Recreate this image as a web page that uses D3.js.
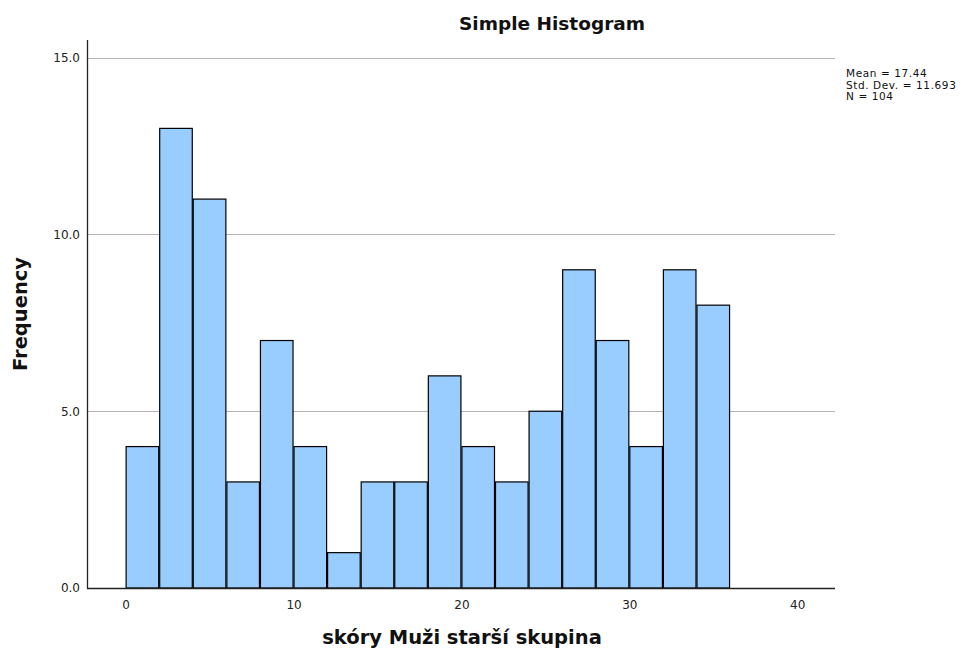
<!DOCTYPE html>
<html>
<head>
<meta charset="utf-8">
<script src="https://cdn.jsdelivr.net/npm/d3@7"></script>
<style>
body{margin:0;background:#fff;}
svg{display:block;}
text{font-family:"DejaVu Sans",sans-serif;}
</style>
</head>
<body>
<svg id="c" width="978" height="651"></svg>
<script>
const binStarts = [0,2,4,6,8,10,12,14,16,18,20,22,24,26,28,30,32,34];
const binWidth = 2;
const frequencies = [4,13,11,3,7,4,1,3,3,6,4,3,5,9,7,4,9,8];
const xTicks = [0,10,20,30,40];
const yTicks = [0,5,10,15];
const statsLines = ["Mean = 17.44","Std. Dev. = 11.693","N = 104"];

(function(){
const svg = d3.select("#c");
const mLeft = 87, mRight = 835, mTop = 40, mBottom = 588;
const x = d3.scaleLinear().domain([-2.3, 42.25]).range([mLeft, mRight]);
const y = d3.scaleLinear().domain([0, 15.5]).range([mBottom, mTop]);

// gridlines
svg.append("g").selectAll("line").data(yTicks.filter(d=>d>0)).join("line")
  .attr("x1", mLeft).attr("x2", mRight)
  .attr("y1", d=>Math.round(y(d))+0.5).attr("y2", d=>Math.round(y(d))+0.5)
  .attr("stroke", "#b4b4b4").attr("stroke-width", 1);

// bars
const data = binStarts.map((s,i)=>({x0:s, x1:s+binWidth, v:frequencies[i]}));
svg.append("g").selectAll("rect").data(data).join("rect")
  .attr("x", d=>x(d.x0)+0.5)
  .attr("width", d=>x(d.x1)-x(d.x0)-1)
  .attr("y", d=>y(d.v))
  .attr("height", d=>y(0)-y(d.v))
  .attr("fill", "#99ccff")
  .attr("stroke", "#000")
  .attr("stroke-width", 1.2);

// axes
const yAxis = d3.axisLeft(y).tickValues(yTicks).tickFormat(d3.format(".1f")).tickSize(0).tickPadding(7);
const gy = svg.append("g").attr("transform", `translate(${mLeft},0)`).call(yAxis);
gy.select(".domain").remove();
gy.selectAll("text").attr("font-size", 12).attr("fill", "#222").attr("font-family", "DejaVu Sans, sans-serif");

const xAxis = d3.axisBottom(x).tickValues(xTicks).tickFormat(d3.format("d")).tickSize(0).tickPadding(12);
const gx = svg.append("g").attr("transform", `translate(0,${mBottom})`).call(xAxis);
gx.select(".domain").remove();
gx.selectAll("text").attr("font-size", 12).attr("fill", "#222").attr("font-family", "DejaVu Sans, sans-serif");

svg.append("line").attr("x1", mLeft+0.5).attr("x2", mLeft+0.5).attr("y1", mTop).attr("y2", mBottom+0.5)
  .attr("stroke", "#222").attr("stroke-width", 1.3);
svg.append("line").attr("x1", mLeft).attr("x2", mRight).attr("y1", mBottom+0.5).attr("y2", mBottom+0.5)
  .attr("stroke", "#222").attr("stroke-width", 1.3);

// titles
svg.append("text").attr("x", 552).attr("y", 30).attr("text-anchor", "middle")
  .attr("font-size", 18.5).attr("font-weight", "bold").attr("fill", "#111").text("Simple Histogram");
svg.append("text").attr("x", 462).attr("y", 644).attr("text-anchor", "middle")
  .attr("font-size", 19.5).attr("font-weight", "bold").attr("fill", "#111").text("skóry Muži starší skupina");
svg.append("text").attr("transform", "translate(27,314) rotate(-90)").attr("text-anchor", "middle")
  .attr("font-size", 19.5).attr("font-weight", "bold").attr("fill", "#111").text("Frequency");

// stats
svg.append("g").selectAll("text").data(statsLines).join("text")
  .attr("x", 846).attr("y", (d,i)=>77+i*11.5)
  .attr("font-size", 10.5).attr("letter-spacing", 0.6).attr("fill", "#111").text(d=>d);
})();
</script>
</body>
</html>
